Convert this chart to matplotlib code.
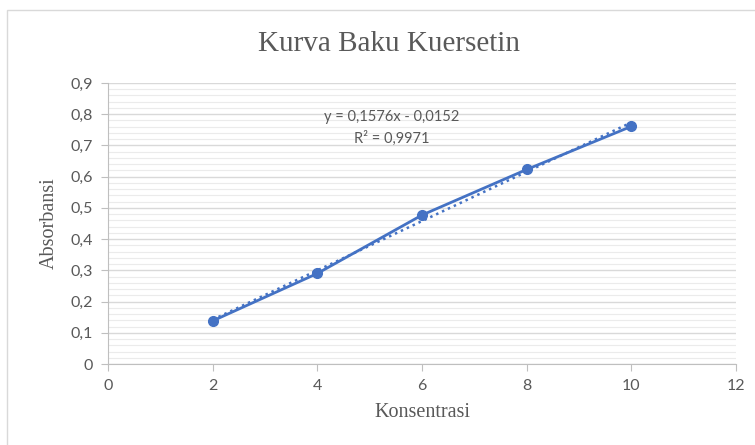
import numpy as np
import matplotlib
matplotlib.use('Agg')
import matplotlib.pyplot as plt
from matplotlib.patches import Rectangle
from matplotlib.ticker import MultipleLocator, FuncFormatter

# data kurva baku
konsentrasi = [2, 4, 6, 8, 10]
absorbansi = [0.138, 0.290, 0.477, 0.623, 0.761]
persamaan = "y = 0,1576x - 0,0152"
r_kuadrat = "R² = 0,9971"

biru = '#4472C4'
abu = '#595959'

fig = plt.figure(figsize=(7.55, 4.45), dpi=100)
fig.patches.append(Rectangle((7 / 755, -0.1), 1.2, 1 - 10 / 445 + 0.1,
                             transform=fig.transFigure, fill=False,
                             edgecolor='#D9D9D9', linewidth=1))

ax = fig.add_axes([108 / 755, 81 / 445, 628 / 755, 281 / 445])

# trendline linear (Excel memakai indeks titik 1..n)
idx = np.arange(1, len(konsentrasi) + 1)
m, c = np.polyfit(idx, absorbansi, 1)
ax.plot(konsentrasi, m * idx + c, linestyle=(0, (1, 1.6)), color=biru,
        linewidth=1.8, zorder=3)
ax.plot(konsentrasi, absorbansi, '-o', color=biru, linewidth=2.0,
        markersize=7, zorder=4)

ax.set_xlim(0, 12)
ax.set_ylim(0, 0.9)
ax.xaxis.set_major_locator(MultipleLocator(2))
ax.yaxis.set_major_locator(MultipleLocator(0.1))
ax.yaxis.set_minor_locator(MultipleLocator(0.02))
ax.yaxis.set_major_formatter(FuncFormatter(lambda v, p: f"{v:.1f}".replace('.', ',') if v > 0.001 else "0"))

ax.grid(axis='y', which='major', color='#D9D9D9', linewidth=1)
ax.grid(axis='y', which='minor', color='#EBEBEB', linewidth=0.8)
ax.set_axisbelow(True)

for s in ['top', 'right']:
    ax.spines[s].set_visible(False)
for s in ['left', 'bottom']:
    ax.spines[s].set_color('#BFBFBF')
ax.tick_params(which='major', length=5, color='#BFBFBF', labelcolor=abu,
               labelsize=11.5, pad=6)
ax.tick_params(which='minor', length=0)
for lbl in ax.get_xticklabels() + ax.get_yticklabels():
    lbl.set_family('Lato')

ax.set_xlabel('Konsentrasi', family='Liberation Serif', fontsize=14.5,
              color=abu, labelpad=7)
ax.set_ylabel('Absorbansi', family='Liberation Serif', fontsize=14.5,
              color=abu, labelpad=8)
fig.text(389 / 755, 1 - 44 / 445, 'Kurva Baku Kuersetin', ha='center',
         va='center', family='Liberation Serif', fontsize=21, color=abu)

ax.text(392 / 755, 1 - 117 / 445, persamaan, transform=fig.transFigure,
        ha='center', va='center', family='Lato', fontsize=10.5, color=abu)
ax.text(392 / 755, 1 - 138 / 445, r_kuadrat, transform=fig.transFigure,
        ha='center', va='center', family='Lato', fontsize=10.5, color=abu)

fig.savefig('out.png', dpi=100)
